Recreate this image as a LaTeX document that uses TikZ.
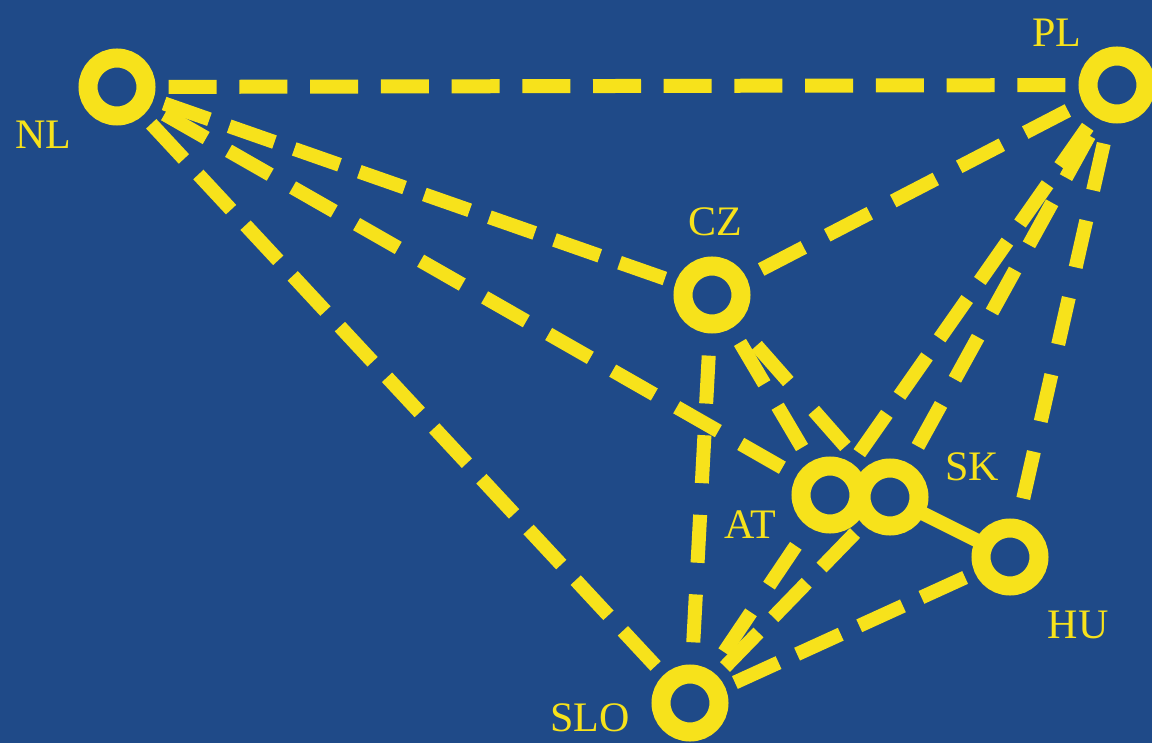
\documentclass[tikz,border=0pt]{standalone}
\usepackage{fontspec}
\setmainfont{Liberation Serif}
\usetikzlibrary{decorations}
\definecolor{bgblue}{HTML}{1F4A88}
\definecolor{ylw}{HTML}{F7E21B}
\begin{document}
\begin{tikzpicture}[x=1pt,y=-1pt,
  country/.style={circle,draw=ylw,line width=19pt,fill=bgblue,minimum size=58pt,inner sep=0pt,outer sep=0pt},
  lbl/.style={text=ylw,font=\fontsize{42}{42}\selectfont,inner sep=0pt},
  link/.style={draw=ylw,line width=14pt,dash pattern=on 48pt off 20pt,dash expand off},
  solidlink/.style={draw=ylw,line width=14pt}]
\fill[bgblue] (0,0) rectangle (1152,743);
\useasboundingbox (0,0) rectangle (1152,743);
% node positions
\coordinate (pNL) at (117,87);
\coordinate (pPL) at (1117,85);
\coordinate (pCZ) at (712,295);
\coordinate (pAT) at (830,495);
\coordinate (pSK) at (890,497);
\coordinate (pHU) at (1010,557);
\coordinate (pSLO) at (690,703);
% invisible clipping nodes for the connectors
\begin{scope}[every node/.style={circle,minimum size=58pt,inner sep=0pt,outer sep=0pt}]
\node (NL) at (pNL) {};
\node (PL) at (pPL) {};
\node (CZ) at (pCZ) {};
\node (AT) at (pAT) {};
\node (SK) at (pSK) {};
\node (HU) at (pHU) {};
\node (SLO) at (pSLO) {};
\end{scope}
% connectors
\draw[link] (NL) -- (PL);
\draw[link] (NL) -- (CZ);
\draw[link] (NL) -- (AT);
\draw[link] (NL) -- (SLO);
\draw[link] (PL) -- (CZ);
\draw[link] (PL) -- (AT);
\draw[link] (PL) -- (SK);
\draw[link] (PL) -- (HU);
\draw[link] (CZ) -- (SLO);
\draw[link] (CZ) -- (AT);
\draw[link] (CZ) -- (SK);
\draw[solidlink] (SK) -- (HU);
\draw[link] (SLO) -- (AT);
\draw[link] (SLO) -- (SK);
\draw[link] (SLO) -- (HU);
% rings
\node[country] (rNL) at (pNL) {};
\node[country] (rPL) at (pPL) {};
\node[country] (rCZ) at (pCZ) {};
\node[country] (rAT) at (pAT) {};
\node[country] (rSK) at (pSK) {};
\node[country] (rHU) at (pHU) {};
\node[country] (rSLO) at (pSLO) {};
% labels
\node[lbl] (tNL) at (43,135) {NL};
\node[lbl] (tPL) at (1057,33) {PL};
\node[lbl] (tCZ) at (715,222) {CZ};
\node[lbl] (tAT) at (750,525) {AT};
\node[lbl] (tSK) at (972,467) {SK};
\node[lbl] (tHU) at (1078,625) {HU};
\node[lbl] (tSLO) at (590,718) {SLO};
\end{tikzpicture}
\end{document}
